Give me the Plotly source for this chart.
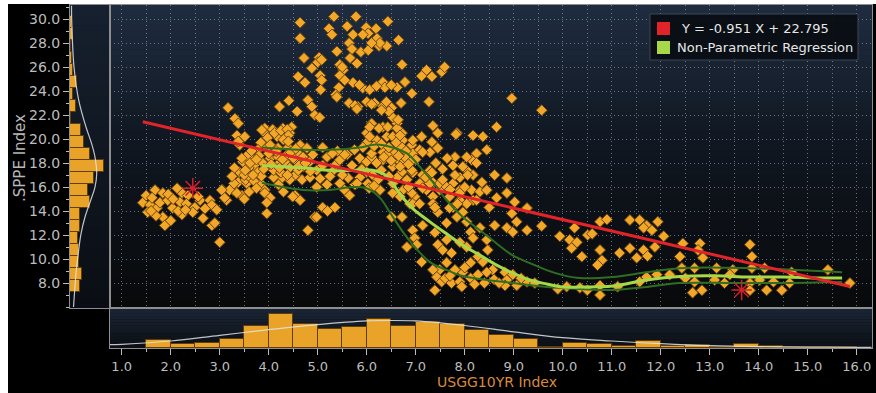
import plotly.graph_objects as go

# ---------------------------------------------------------------------------
# Observations: USGG10YR (x) against .SPPE Index (y), grouped by area of the cloud
# ---------------------------------------------------------------------------
rate_a = [1.68, 1.84, 1.43, 1.58, 1.53, 1.72, 1.78, 1.94, 2.04, 1.84,
          1.88, 2.19, 2.23, 2.13, 2.23, 2.15, 2.49, 2.60, 2.45, 2.66,
          2.84, 2.90, 2.80, 2.84, 2.94, 3.00, 3.06, 3.14, 1.50, 1.62,
          1.95, 2.05, 2.35, 2.32, 1.70, 2.56, 2.00, 2.70, 1.60, 2.30]
pe_a = [15.75, 15.5, 14.7, 14.5, 13.9, 14.25, 14.7, 14.9, 14.25, 13.5,
        12.8, 14.75, 15.5, 15.9, 13.7, 14.0, 14.3, 14.9, 13.9, 13.4,
        12.8, 13.0, 14.9, 14.5, 14.1, 11.4, 15.75, 14.9, 15.3, 15.1,
        15.4, 15.0, 15.3, 14.6, 13.6, 15.2, 13.2, 14.2, 14.0, 14.1]

rate_b = [3.27, 3.31, 3.38, 3.45, 3.55, 3.20, 3.35, 3.10, 3.04, 3.50,
          3.29, 3.53, 3.84, 3.92, 3.96, 3.92, 4.03, 3.96, 3.17, 3.31,
          3.38, 3.35, 3.51, 3.41, 3.38, 3.66, 3.47, 3.70, 3.59, 3.40,
          3.78, 3.88, 3.84, 3.78, 3.96, 3.92, 3.96, 3.86, 3.98, 3.60,
          3.70, 3.50, 3.30, 3.55, 3.80, 3.65, 3.25, 3.85, 3.60, 3.75]
pe_b = [15.75, 16.2, 16.4, 15.3, 16.3, 15.75, 15.5, 15.1, 15.75, 15.0,
        16.3, 16.6, 16.3, 15.75, 13.8, 15.5, 15.1, 14.7, 22.6, 21.7,
        21.3, 20.3, 20.2, 19.5, 19.8, 18.4, 18.1, 17.8, 17.6, 17.25,
        17.25, 18.0, 19.7, 19.1, 19.3, 20.9, 20.3, 20.75, 20.1, 16.9,
        16.5, 17.0, 17.6, 18.6, 18.6, 19.0, 16.9, 16.9, 15.6, 15.9]

rate_c = [4.08, 4.29, 4.47, 4.17, 4.43, 4.12, 4.25, 4.38, 4.40, 4.30,
          4.03, 4.19, 4.40, 4.64, 4.58, 4.78, 4.03, 4.19, 4.17, 4.33,
          4.43, 4.58, 4.70, 4.84, 4.98, 4.54, 4.68, 4.84, 4.98, 4.43,
          4.27, 4.10, 4.54, 4.64, 4.94, 4.49, 4.80, 4.98, 4.10, 4.25,
          4.60, 4.85, 4.35, 4.50, 4.70, 4.90, 4.05, 4.40, 4.20, 4.30]
pe_c = [20.8, 20.9, 21.0, 20.2, 20.5, 20.5, 20.7, 20.8, 20.3, 19.95,
        19.5, 19.25, 19.3, 19.5, 18.9, 19.25, 18.4, 18.5, 17.8, 18.1,
        17.6, 18.1, 17.7, 18.1, 17.4, 17.0, 16.6, 16.8, 16.0, 16.6,
        16.75, 16.8, 15.3, 14.9, 13.5, 15.2, 12.4, 13.5, 17.4, 17.2,
        17.4, 17.3, 18.6, 18.4, 18.5, 18.7, 17.9, 19.8, 16.2, 15.6]

rate_d = [5.05, 5.19, 5.10, 5.19, 5.10, 5.35, 5.20, 5.55, 5.76, 5.62,
          5.35, 5.45, 5.60, 5.70, 5.86, 5.86, 5.80, 5.55, 5.30, 5.50,
          5.25, 5.90, 5.75, 5.40, 5.10, 5.30, 4.94, 5.04, 5.65, 5.45]
pe_d = [16.7, 16.2, 17.8, 18.5, 14.3, 14.3, 14.0, 15.75, 16.2, 16.75,
        17.8, 18.25, 18.7, 17.8, 18.4, 16.8, 16.3, 18.7, 17.3, 17.0,
        16.9, 17.5, 19.1, 19.0, 19.3, 18.8, 22.0, 21.8, 15.3, 16.3]

rate_e = [6.00, 6.10, 6.00, 6.12, 6.23, 6.02, 6.33, 6.47, 6.53, 6.68,
          6.72, 6.62, 6.82, 6.94, 6.74, 6.53, 6.27, 6.05, 6.51, 6.72,
          6.88, 6.98, 6.00, 6.10, 6.33, 6.41, 6.00, 6.21, 6.62, 6.72,
          6.74, 6.53, 6.92, 6.06, 6.25, 6.43, 6.62, 6.06, 6.53, 6.68,
          6.72, 5.92, 6.10, 6.33, 6.57, 6.41, 6.94, 6.68, 6.92, 6.53,
          6.68, 6.92, 6.94, 6.82, 6.94, 6.98, 6.64, 6.30, 6.80, 6.20,
          6.45, 6.85, 6.15]
pe_e = [18.1, 18.5, 17.25, 17.0, 16.6, 16.3, 18.25, 18.9, 17.7, 18.1,
        17.25, 16.8, 16.6, 17.2, 15.75, 15.5, 15.75, 15.9, 13.5, 13.5,
        14.6, 15.2, 20.5, 21.3, 21.0, 20.2, 19.7, 19.9, 21.3, 20.5,
        19.9, 21.8, 19.5, 21.0, 20.9, 21.0, 20.9, 20.2, 20.2, 20.3,
        19.3, 19.3, 18.8, 18.9, 18.8, 18.7, 18.8, 17.7, 17.4, 16.3,
        15.2, 15.5, 14.6, 11.0, 12.4, 11.75, 21.6, 17.4, 19.0, 18.0,
        16.9, 16.0, 16.1]

rate_f = [4.64, 4.64, 5.33, 5.78, 6.43, 5.23, 5.29, 5.60, 5.99, 6.03,
          6.19, 5.72, 5.92, 6.21, 5.64, 6.25, 6.41, 6.65, 5.39, 5.88,
          6.03, 4.72, 5.03, 5.00, 4.88, 5.45, 5.66, 5.80, 5.52, 5.05,
          4.60, 4.74, 5.08, 5.45, 5.43, 5.06, 5.37, 5.72, 5.92, 6.06,
          6.33, 6.37, 6.62, 6.78, 6.72, 5.64, 5.82, 6.00, 6.16, 6.33,
          6.51, 6.70, 4.80, 4.88, 4.58, 4.41, 4.22, 6.27, 7.22, 7.12,
          7.33, 7.53, 7.59, 6.92, 7.27, 6.45, 8.96, 9.57, 5.76, 6.30,
          5.39, 5.80, 7.35, 5.08, 5.50, 5.85, 6.20, 6.50, 5.55, 6.10,
          6.40, 5.70, 6.10]
pe_f = [29.7, 28.4, 30.2, 30.2, 29.8, 29.2, 28.7, 29.4, 29.3, 28.8,
        29.2, 28.7, 28.7, 28.4, 28.0, 27.75, 27.75, 28.25, 27.3, 27.25,
        27.4, 26.75, 26.8, 26.4, 25.9, 26.2, 26.75, 26.3, 25.75, 25.3,
        25.2, 24.7, 24.9, 25.3, 24.3, 24.1, 23.7, 24.7, 24.25, 24.1,
        24.75, 24.3, 24.3, 24.75, 26.2, 23.0, 22.7, 23.1, 23.0, 22.75,
        22.6, 23.0, 23.25, 22.7, 22.3, 23.2, 22.7, 28.0, 25.75, 25.25,
        25.2, 25.6, 26.0, 23.8, 23.1, 22.3, 23.4, 22.4, 22.8, 22.4,
        23.5, 22.5, 21.1, 26.6, 26.0, 24.5, 24.4, 24.5, 24.9, 22.9,
        23.1, 27.5, 28.0]

rate_g = [7.45, 7.33, 7.12, 6.94, 7.08, 7.29, 7.45, 7.84, 8.65, 7.82,
          8.37, 8.17, 8.45, 7.14, 7.08, 7.29, 7.35, 7.22, 7.35, 7.49,
          7.69, 7.76, 7.90, 8.04, 8.17, 8.14, 8.04, 8.24, 7.80, 7.64,
          7.76, 7.90, 8.14, 7.90, 8.17, 7.96, 7.76, 7.08, 7.35, 7.45,
          7.14, 8.24, 7.96, 7.80, 8.06, 8.61, 8.86, 7.33, 7.49, 7.63,
          7.29, 7.14, 7.39, 7.90, 7.69, 8.04, 8.24, 8.31, 8.45, 8.65,
          8.86, 9.02, 9.27, 8.96, 9.06, 8.86, 8.98, 9.27, 8.61, 9.57,
          7.63, 7.84, 8.04, 8.31, 8.12, 8.45, 7.14, 7.39, 7.45, 7.63,
          7.55, 7.73, 7.90, 8.04, 8.17, 8.27, 8.37, 8.47, 8.12, 7.02,
          7.12, 7.41, 7.00, 7.55]
pe_g = [20.5, 19.75, 20.2, 19.9, 19.1, 18.9, 19.25, 20.5, 21.0, 20.4,
        20.2, 20.3, 19.1, 17.0, 16.3, 17.4, 16.4, 15.75, 15.2, 15.75,
        15.2, 16.3, 16.8, 17.4, 17.0, 18.25, 18.5, 18.8, 18.5, 18.4,
        17.8, 15.75, 15.75, 14.9, 14.9, 13.9, 14.3, 14.6, 14.6, 13.9,
        18.9, 18.0, 17.7, 17.0, 17.0, 17.0, 16.75, 17.2, 16.3, 16.0,
        16.3, 15.9, 14.3, 15.5, 14.25, 14.6, 14.9, 15.6, 15.75, 15.1,
        15.5, 14.75, 14.25, 13.8, 13.1, 12.6, 12.25, 12.4, 12.8, 12.75,
        13.0, 13.5, 13.1, 12.6, 12.25, 11.6, 12.8, 12.2, 11.2, 11.6,
        10.75, 10.5, 11.4, 11.0, 11.75, 10.2, 9.75, 10.75, 9.7, 11.2,
        9.75, 18.0, 18.3, 17.5]

rate_h = [7.96, 7.80, 7.63, 7.49, 7.35, 7.43, 7.53, 7.73, 7.90, 7.94,
          8.12, 8.27, 7.39, 8.57, 8.82, 8.86, 8.98, 9.06, 9.27, 9.43,
          8.82, 8.40, 8.60, 7.60, 8.20]
pe_h = [8.9, 9.1, 9.7, 9.1, 9.1, 8.5, 8.1, 8.0, 8.1, 7.7,
        8.4, 8.7, 7.4, 9.1, 8.9, 8.25, 8.7, 7.8, 8.1, 8.0,
        7.8, 8.0, 8.3, 8.4, 7.9]

rate_i = [9.94, 10.24, 10.76, 10.90, 11.37, 11.57, 11.71, 11.94, 11.65, 12.06,
          10.51, 10.14, 10.29, 10.18, 10.39, 10.76, 10.80, 10.71, 11.16, 11.37,
          11.65, 11.51, 11.73, 11.88, 12.39, 12.18, 10.08, 10.35, 10.76, 10.76,
          11.12, 11.57, 11.71, 11.92, 11.82, 12.45, 12.80, 12.76, 12.86, 10.60,
          9.90, 10.50]
pe_i = [11.9, 12.6, 13.1, 13.3, 13.25, 13.25, 12.8, 13.1, 12.6, 11.9,
        12.0, 11.6, 11.4, 10.9, 10.2, 10.75, 9.9, 9.5, 10.5, 10.9,
        10.75, 10.1, 10.25, 11.0, 10.2, 8.7, 7.7, 7.6, 7.8, 7.0,
        7.7, 8.1, 8.5, 8.7, 12.4, 11.3, 11.3, 10.75, 10.1, 12.1,
        7.5, 7.4]

rate_j = [13.82, 13.86, 13.86, 14.12, 12.43, 12.69, 13.14, 13.47, 13.41, 12.69,
          13.10, 12.65, 12.84, 13.82, 14.02, 14.16, 13.82, 14.47, 14.63, 14.67,
          15.41, 15.86, 12.50, 13.30, 14.30]
pe_j = [11.2, 10.2, 9.25, 9.25, 9.25, 9.25, 9.25, 9.1, 8.7, 8.1,
        8.25, 7.2, 7.4, 8.0, 8.25, 7.4, 7.4, 7.4, 8.0, 8.9,
        9.1, 8.0, 8.4, 8.0, 8.1]

# additional observations in the densest parts of the cloud
rate_k = [3.62, 3.75, 3.90, 4.00, 4.15, 4.28, 4.45, 4.55, 4.62, 4.75,
          3.45, 3.52, 3.68, 4.22, 4.38, 6.15, 6.30, 6.45, 6.60, 6.80,
          6.90, 6.35, 6.50, 6.65, 6.85, 7.20, 7.55, 7.70, 8.00, 8.35,
          7.85, 8.50, 7.70, 8.00, 8.45, 8.70, 9.15]
pe_k = [18.0, 18.3, 17.5, 18.8, 19.0, 18.3, 18.9, 19.2, 17.8, 18.0,
        18.4, 17.4, 17.0, 17.6, 17.0, 19.4, 19.6, 19.3, 19.7, 18.4,
        18.1, 18.5, 18.2, 18.6, 17.9, 16.8, 16.6, 15.8, 16.0, 16.4,
        14.6, 14.3, 8.6, 9.3, 8.9, 8.0, 8.4]

usgg10yr = (rate_a + rate_b + rate_c + rate_d + rate_e + rate_f + rate_g
            + rate_h + rate_i + rate_j + rate_k)
sppe = pe_a + pe_b + pe_c + pe_d + pe_e + pe_f + pe_g + pe_h + pe_i + pe_j + pe_k

# Linear regression coefficients
slope = -0.951
intercept = 22.795

# Non-parametric regression curve and its confidence band
npr_x = [3.86, 4.70, 5.39, 5.72, 6.12, 6.41, 6.68, 6.94, 7.29, 7.63, 7.96, 8.31,
         8.65, 8.98, 9.33, 9.67, 10.00, 10.35, 11.02, 11.71, 12.39, 13.10, 13.80,
         14.50, 15.20, 15.70]
npr_y = [17.8, 17.6, 17.35, 17.4, 17.4, 16.9, 15.4, 14.2, 13.1, 12.1, 11.15, 10.32,
         9.49, 8.83, 8.25, 7.92, 7.67, 7.67, 7.75, 8.25, 8.55, 8.6, 8.5,
         8.5, 8.42, 8.42]
band_hi_x = [3.86, 4.70, 5.24, 5.86, 6.20, 6.53, 6.82, 7.08, 7.35, 7.63, 7.96, 8.31, 8.65,
             8.98, 9.33, 9.67, 10.00, 10.35, 11.02, 11.71, 12.39, 13.80, 15.70]
band_hi_y = [19.3, 19.1, 19.1, 19.3, 19.55, 19.3, 18.8, 17.7, 16.4, 14.9, 13.5, 12.4, 11.3,
             10.3, 9.66, 9.08, 8.66, 8.41, 8.5, 8.9, 9.24, 9.24, 8.9]
band_lo_x = [3.86, 4.70, 5.24, 5.72, 6.00, 6.27, 6.47, 6.68, 6.88, 7.29, 7.63, 7.96, 8.31,
             8.98, 9.67, 10.35, 11.02, 11.71, 12.39, 13.50, 14.50, 15.70]
band_lo_y = [16.35, 15.75, 15.75, 16.0, 15.9, 15.1, 13.9, 12.6, 11.5, 9.74, 9.08, 8.58, 8.33,
             8.0, 7.67, 7.5, 7.42, 7.67, 8.0, 8.0, 8.0, 8.08]

# Highlighted observations
mark_x = [2.45, 13.65]
mark_y = [15.9, 7.42]

# Marginal histograms
rate_bins = [1.75, 2.25, 2.75, 3.25, 3.75, 4.25, 4.75, 5.25, 5.75, 6.25, 6.75, 7.25, 7.75,
             8.25, 8.75, 9.25, 9.75, 10.25, 10.75, 11.25, 11.75, 12.25, 12.75, 13.25,
             13.75, 14.25, 14.75, 15.25, 15.75]
rate_counts = [12, 6, 7, 14, 32, 51, 35, 28, 31, 43, 32, 38, 35,
               27, 20, 13, 1, 8, 6, 3, 10, 3, 5, 1,
               6, 3, 1, 1, 1]
pe_bins = [7.75, 8.75, 9.75, 10.75, 11.75, 12.75, 13.75, 14.75, 15.75, 16.75, 17.75, 18.75,
           19.75, 20.75, 21.75, 22.75, 23.75, 24.75, 25.75, 26.75, 27.75, 28.75, 29.75]
pe_counts = [20, 24, 18, 18, 16, 20, 20, 40, 36, 48, 68, 40,
             28, 22, 2, 12, 6, 14, 6, 4, 2, 6, 4]

# Smoothed marginal densities, in histogram count units
rate_dens_x = [0.76, 1.0, 2.0, 3.0, 4.0, 5.0, 6.0, 6.5, 7.0, 8.0, 9.0, 10.0, 11.0, 12.0,
               13.0, 14.0, 15.0, 16.0, 16.3]
rate_dens_y = [4.9, 5.5, 10.4, 18.9, 27.2, 34.7, 40.2, 40.9, 40.2, 33.5, 24.0, 15.3, 10.4,
               6.4, 3.4, 1.9, 1.3, 1.0, 0.9]
pe_dens_y = [6.0, 6.6, 8.8, 10.5, 12.1, 13.5, 14.9, 16.0, 17.1, 18.5, 19.6, 21.0, 23.25,
             26.0, 29.9, 31.1]
pe_dens_x = [7, 8, 12, 16.6, 22, 30, 41.4, 50, 53.4, 50, 43.4, 32, 17.4,
             8, 3.4, 3]

# ---------------------------------------------------------------------------
# Layout geometry (pixels of the 876 x 393 canvas)
# ---------------------------------------------------------------------------
W, H = 876, 393


def fx(p):
    return p / W


def fy(p):
    return 1 - p / H


MAIN_X = [fx(110), fx(872)]
MAIN_Y = [fy(308), fy(5)]
LEFT_X = [fx(70), fx(110)]
BOT_Y = [fy(348), fy(308)]

X_RANGE = [0.761, 16.31]
Y_RANGE = [5.92, 31.17]

FONT = "DejaVu Sans"
TICK_COL = "#bdbdbd"
LINE_COL = "#8e8e8e"
GRID_COL = "rgba(165,175,190,0.6)"
DIAMOND = "#f2a728"
BAR_COL = "rgb(233,163,40)"
RED = "#e2242a"
LIGHT_GREEN = "#a6d84a"
DARK_GREEN = "#2f6e22"
ORANGE_TITLE = "#d98a3d"


def gradient(xref, yref, stops, n=40):
    """Vertical gradient made of thin rectangles; stops run top -> bottom."""
    shapes = []
    for i in range(n):
        t = (i + 0.5) / n
        for k in range(len(stops) - 1):
            t0, c0 = stops[k]
            t1, c1 = stops[k + 1]
            if t0 <= t <= t1:
                u = (t - t0) / (t1 - t0)
                col = tuple(round(c0[j] + (c1[j] - c0[j]) * u) for j in range(3))
                break
        shapes.append(dict(type="rect", xref=xref, yref=yref, layer="below",
                           x0=0, x1=1, y0=1 - (i + 1) / n - 0.002, y1=1 - i / n,
                           line=dict(width=0), fillcolor="rgb(%d,%d,%d)" % col))
    return shapes


shapes = []
shapes += gradient("x domain", "y domain",
                   [(0, (31, 45, 64)), (0.45, (16, 23, 33)), (1, (8, 9, 11))], 48)
shapes += gradient("x2 domain", "y2 domain",
                   [(0, (22, 32, 46)), (1, (10, 14, 20))], 30)
shapes += gradient("x3 domain", "y3 domain",
                   [(0, (27, 38, 54)), (1, (11, 15, 21))], 14)

# white frame at the left and top of the canvas
shapes.append(dict(type="rect", xref="paper", yref="paper", x0=0, x1=fx(8), y0=0, y1=1,
                   fillcolor="white", line=dict(width=0)))
shapes.append(dict(type="rect", xref="paper", yref="paper", x0=0, x1=1, y0=fy(4), y1=1,
                   fillcolor="white", line=dict(width=0)))

# legend box with colour swatches
shapes.append(dict(type="rect", xref="paper", yref="paper",
                   x0=fx(650), x1=fx(858), y0=fy(60), y1=fy(14),
                   fillcolor="rgba(9,13,19,0.92)", line=dict(color="#3d4652", width=1)))
shapes.append(dict(type="rect", xref="paper", yref="paper",
                   x0=fx(657), x1=fx(670), y0=fy(35), y1=fy(22),
                   fillcolor=RED, line=dict(width=0)))
shapes.append(dict(type="rect", xref="paper", yref="paper",
                   x0=fx(657), x1=fx(670), y0=fy(54), y1=fy(41),
                   fillcolor=LIGHT_GREEN, line=dict(width=0)))

fit_label = "Y = %.3f X + %.3f" % (slope, intercept)

annotations = [
    dict(text=fit_label, xref="paper", yref="paper", x=fx(679), y=fy(28.5),
         xanchor="left", yanchor="middle", showarrow=False,
         font=dict(family=FONT, size=13, color="#e6e6e6")),
    dict(text="Non-Parametric Regression", xref="paper", yref="paper", x=fx(675), y=fy(48),
         xanchor="left", yanchor="middle", showarrow=False,
         font=dict(family=FONT, size=13, color="#e6e6e6")),
    dict(text=".SPPE Index", xref="paper", yref="paper", x=fx(20), y=fy(158),
         xanchor="center", yanchor="middle", textangle=-90, showarrow=False,
         font=dict(family=FONT, size=15, color="#b8b8b8")),
    dict(text="USGG10YR Index", xref="paper", yref="paper", x=fx(497), y=fy(382),
         xanchor="center", yanchor="middle", showarrow=False,
         font=dict(family=FONT, size=14, color=ORANGE_TITLE)),
]

fig = go.Figure()

# marginal histograms and their smoothed densities
fig.add_trace(go.Bar(x=rate_bins, y=rate_counts, width=0.5, xaxis="x3", yaxis="y3",
                     marker=dict(color=BAR_COL, line=dict(color="rgb(95,62,14)", width=1)),
                     showlegend=False, hoverinfo="skip"))
fig.add_trace(go.Scatter(x=rate_dens_x, y=rate_dens_y, xaxis="x3", yaxis="y3", mode="lines",
                         line=dict(color="rgba(225,228,232,0.85)", width=1.2, shape="spline"),
                         showlegend=False, hoverinfo="skip"))
fig.add_trace(go.Bar(y=pe_bins, x=pe_counts, width=1.0, orientation="h", xaxis="x2", yaxis="y2",
                     marker=dict(color=BAR_COL, line=dict(color="rgb(95,62,14)", width=1)),
                     showlegend=False, hoverinfo="skip"))
fig.add_trace(go.Scatter(x=pe_dens_x, y=pe_dens_y, xaxis="x2", yaxis="y2", mode="lines",
                         line=dict(color="rgba(225,228,232,0.85)", width=1.2, shape="spline"),
                         showlegend=False, hoverinfo="skip"))

# scatter of observations
fig.add_trace(go.Scatter(x=usgg10yr, y=sppe, mode="markers", name=".SPPE Index",
                         marker=dict(symbol="diamond", size=8.5, color=DIAMOND,
                                     line=dict(color="rgb(105,70,18)", width=1)),
                         showlegend=False))

# non-parametric regression with band
for bx, by in ((band_hi_x, band_hi_y), (band_lo_x, band_lo_y)):
    fig.add_trace(go.Scatter(x=bx, y=by, mode="lines",
                             line=dict(color=DARK_GREEN, width=2, shape="spline"),
                             showlegend=False, hoverinfo="skip"))
fig.add_trace(go.Scatter(x=npr_x, y=npr_y, mode="lines", name="Non-Parametric Regression",
                         line=dict(color=LIGHT_GREEN, width=3, shape="spline"),
                         showlegend=False))

# linear fit across the observed range
x_lo, x_hi = min(usgg10yr), max(usgg10yr)
fig.add_trace(go.Scatter(x=[x_lo, x_hi], y=[slope * x_lo + intercept, slope * x_hi + intercept],
                         mode="lines", name=fit_label,
                         line=dict(color=RED, width=3), showlegend=False))

fig.add_trace(go.Scatter(x=mark_x, y=mark_y, mode="markers", showlegend=False, hoverinfo="skip",
                         marker=dict(symbol="asterisk-open", size=17, color="#d3202a",
                                     line=dict(color="#d3202a", width=1.5))))

axis_common = dict(showline=True, mirror=True, linecolor=LINE_COL, linewidth=1,
                   zeroline=False, fixedrange=True)

fig.update_layout(
    width=W, height=H,
    margin=dict(l=0, r=0, t=0, b=0),
    paper_bgcolor="black",
    plot_bgcolor="rgb(10,12,16)",
    showlegend=False,
    bargap=0,
    shapes=shapes,
    annotations=annotations,
    font=dict(family=FONT, color=TICK_COL),
    xaxis=dict(domain=MAIN_X, anchor="y", range=X_RANGE, showticklabels=False, ticks="",
               showgrid=True, dtick=0.5, tick0=0, gridcolor=GRID_COL, griddash="1px,3px",
               gridwidth=1, **axis_common),
    yaxis=dict(domain=MAIN_Y, anchor="x", range=Y_RANGE, showticklabels=False, ticks="",
               showgrid=True, dtick=2, tick0=0, gridcolor=GRID_COL, griddash="1px,3px",
               gridwidth=1, **axis_common),
    xaxis2=dict(domain=LEFT_X, anchor="y2", range=[0, 80], showticklabels=False, ticks="",
                showgrid=False, **axis_common),
    yaxis2=dict(domain=MAIN_Y, anchor="x2", range=Y_RANGE, showgrid=False,
                tickmode="array", tickvals=list(range(8, 31, 2)),
                ticktext=["%.1f" % v for v in range(8, 31, 2)],
                ticks="outside", ticklen=6, tickcolor=TICK_COL, tickwidth=1,
                minor=dict(tickvals=[6, 7, 9, 11, 13, 15, 17, 19, 21, 23, 25, 27, 29, 31],
                           ticks="outside", ticklen=3, tickcolor=TICK_COL, showgrid=False),
                tickfont=dict(family=FONT, size=14, color=TICK_COL),
                **axis_common),
    xaxis3=dict(domain=MAIN_X, anchor="y3", range=X_RANGE, showgrid=False,
                dtick=1, tick0=0, tickformat=".1f",
                ticks="outside", ticklen=6, tickcolor=TICK_COL, tickwidth=1,
                minor=dict(dtick=0.5, tick0=0, ticks="outside", ticklen=3,
                           tickcolor=TICK_COL, showgrid=False),
                tickfont=dict(family=FONT, size=13, color=TICK_COL),
                **axis_common),
    yaxis3=dict(domain=BOT_Y, anchor="x3", range=[0, 59.5], showticklabels=False, ticks="",
                showgrid=False, **axis_common),
)

fig.write_html("out.html", config={"displayModeBar": False})
